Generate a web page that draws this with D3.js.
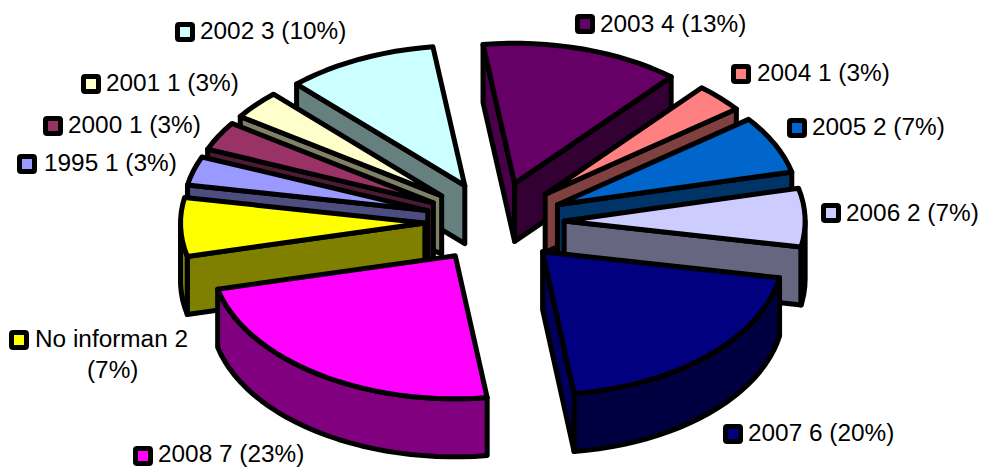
<!DOCTYPE html>
<html>
<head>
<meta charset="utf-8">
<script src="https://cdnjs.cloudflare.com/ajax/libs/d3/7.8.5/d3.min.js"></script>
<style>html,body{margin:0;padding:0;background:#fff}svg{display:block}</style>
</head>
<body>
<svg id="c" width="982" height="467"></svg>
<script>
const categories = ["2003","2004","2005","2006","2007","2008","No informan","1995","2000","2001","2002"];
const values = [4,1,2,2,6,7,2,1,1,1,3];
const colors = ["#660066","#FF8080","#0066CC","#CCCCFF","#000080","#FF00FF","#FFFF00","#9999FF","#993366","#FFFFCC","#CCFFFF"];
// paint order, back to front
const paintOrder = ["2002","2001","2000","1995","No informan","2008","2003","2004","2005","2006","2007"];
// label layout: key left/top, text x, baseline(s)
const labelLayout = {
  "2003":[575,14,600,[32]], "2004":[731,64,757,[81]], "2005":[787,118,812,[135]],
  "2006":[821,203,846,[221]], "2007":[723,424,748,[441]], "2008":[133,446,158,[462]],
  "No informan":[9,330,35,[347,378],87], "1995":[17,154,44,[171]], "2000":[43,116,68,[133]],
  "2001":[81,74,106,[91]], "2002":[175,22,200,[39]]
};

const W=982,H=467, cx=495, cy=222, rx=241, ry=143, depth=58, explode=0.287;
// far (top) and left parts of the tilted pie are slightly displaced
const sx=d3.scaleLinear().domain([-1,0,1]).range([cx-rx*1.014,cx,cx+rx]);
const sy=d3.scaleLinear().domain([-1,0,1]).range([cy-ry*0.98,cy,cy+ry]);
const deg=Math.PI/180, total=d3.sum(values);
const pie=d3.pie().sort(null).startAngle(-7.5*deg).endAngle(352.5*deg);
const arcs=pie(values).map((d,i)=>({...d,name:categories[i],color:colors[i]}));
const svg=d3.select("#c");
const line=d3.line();
const shade=(c,k)=>{const r=d3.rgb(c);return d3.rgb(r.r*k,r.g*k,r.b*k).formatHex();};
const lw=5;

function slicePts(d){
  const mid=(d.startAngle+d.endAngle)/2;
  const ox=explode*Math.sin(mid), oy=-explode*Math.cos(mid);
  const P=(a,r=1,z=0)=>[sx(ox+r*Math.sin(a)), sy(oy-r*Math.cos(a))+z];
  return {P,mid};
}
function arcAngles(a0,a1){
  const step=3*deg, out=[a0];
  for(let a=a0+step;a<a1-1e-6;a+=step) out.push(a);
  out.push(a1);
  return out;
}
const g=svg.append("g");
paintOrder.forEach(name=>{
  const d=arcs.find(a=>a.name===name);
  const {P,mid}=slicePts(d);
  const s=g.append("g").attr("stroke","#000").attr("stroke-width",lw).attr("stroke-linejoin","round");
  const apex=P(0,0), u=P(mid,0.5);
  const wall=(a)=>{
    const p=P(a), vx=p[0]-apex[0], vy=p[1]-apex[1], ux=u[0]-apex[0], uy=u[1]-apex[1];
    const side=vx*uy-vy*ux;
    if(Math.sign(side)===Math.sign(vx)) return;   // hidden behind own top
    const k=Math.abs(Math.sin(a))<0.2?0.72:0.5;
    s.append("path").attr("fill",shade(d.color,k))
      .attr("d",line([apex,p,P(a,1,depth),P(a,0,depth)])+"Z");
  };
  wall(d.startAngle); wall(d.endAngle);
  const f0=Math.max(d.startAngle,90*deg), f1=Math.min(d.endAngle,270*deg);
  if(f1>f0){
    const as=arcAngles(f0,f1);
    const pts=as.map(a=>P(a)).concat(as.slice().reverse().map(a=>P(a,1,depth)));
    s.append("path").attr("fill",shade(d.color,0.5)).attr("d",line(pts)+"Z");
  }
  const top=[apex].concat(arcAngles(d.startAngle,d.endAngle).map(a=>P(a)));
  s.append("path").attr("fill",d.color).attr("d",line(top)+"Z");
});

const fx=1.06, fs=23;
arcs.forEach(d=>{
  const L=labelLayout[d.name];
  svg.append("rect").attr("x",L[0]+2.5).attr("y",L[1]+2.5).attr("width",15).attr("height",15).attr("rx",1.5)
    .attr("fill",d.color).attr("stroke","#000").attr("stroke-width",5);
  const pct=Math.round(d.value/total*100);
  const full=`${d.name} ${d.value} (${pct}%)`;
  const lines=L[3].length>1?[`${d.name} ${d.value}`,`(${pct}%)`]:[full];
  lines.forEach((t,i)=>{
    const x=i===0?L[2]:L[4];
    svg.append("text").attr("transform",`translate(${x},${L[3][i]}) scale(${fx},1)`)
      .attr("font-family","'Liberation Sans',Arial,sans-serif").attr("font-size",fs).attr("fill","#000").text(t);
  });
});
</script>
</body>
</html>
